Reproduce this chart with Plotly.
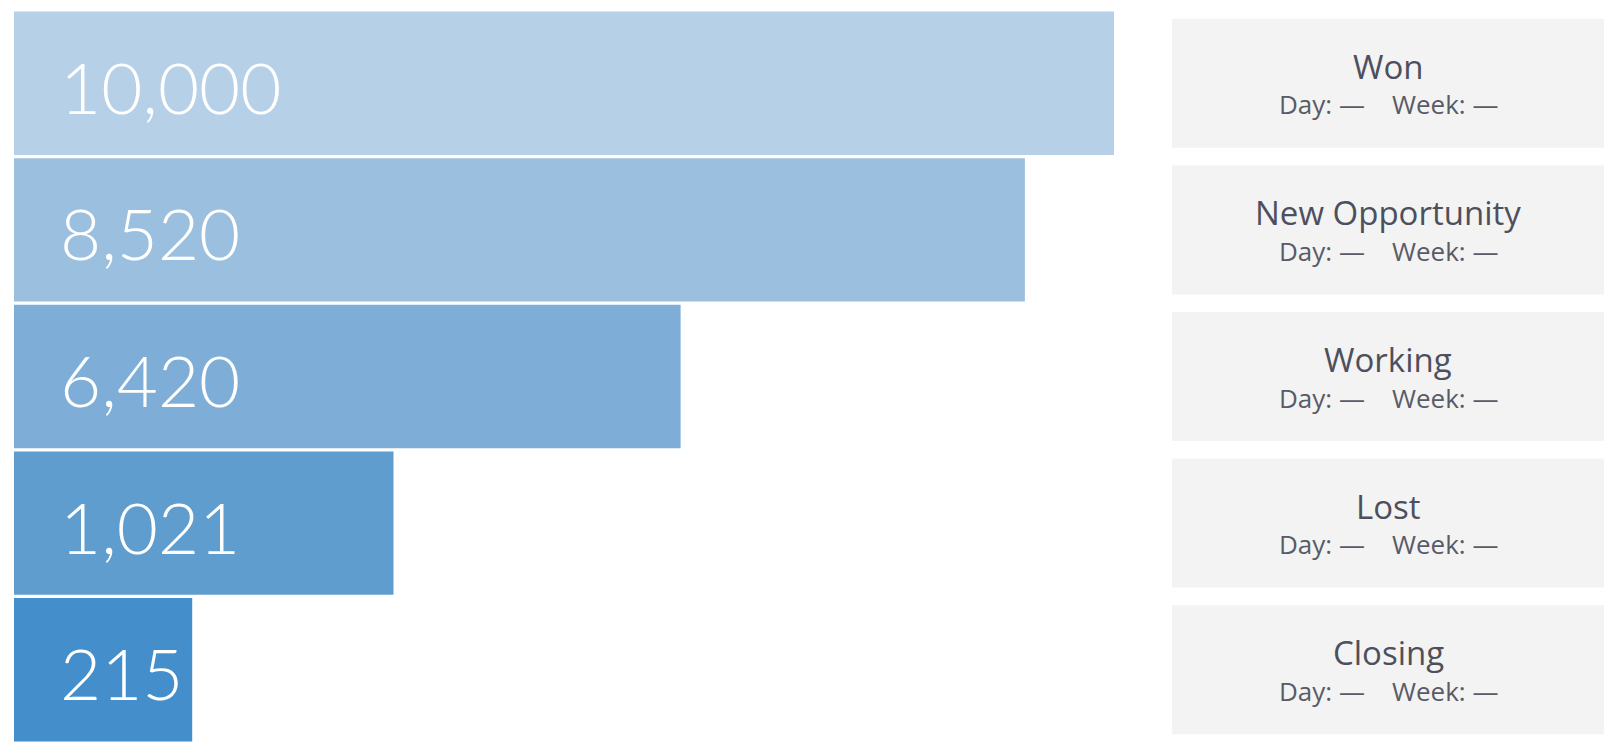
import plotly.graph_objects as go

# funnel stages, top to bottom
stages = ["Won", "New Opportunity", "Working", "Lost", "Closing"]
counts = [10000, 8520, 6420, 1021, 215]
# drawn bar length (percent of the widest bar)
bar_length = [100, 91.9, 60.6, 34.5, 16.2]
bar_colors = ["#b6d0e7", "#9bbfdf", "#7eaed7", "#5f9dcf", "#438ecb"]
day_values = ["—", "—", "—", "—", "—"]
week_values = ["—", "—", "—", "—", "—"]

W, H = 1622, 756
# the page body adds an 8px margin, so the plot area is pulled in by that much
L, T, B = 6, 2, 21
plot_w = W - L

fig = go.Figure()

fig.add_trace(go.Bar(
    x=bar_length, y=stages, orientation="h",
    marker=dict(color=bar_colors, line=dict(width=0)),
    hoverinfo="skip",
))

# big white numbers sitting inside each bar
for stage, c in zip(stages, counts):
    fig.add_annotation(x=0, y=stage, xref="x", yref="y", text=f"{c:,}",
                       showarrow=False, xanchor="left", yanchor="middle",
                       xshift=44, yshift=-3,
                       font=dict(family="Lato", size=71, color="white", weight=300))

# grey info cards on the right
card_x0 = (1164 - L) / plot_w
card_x1 = (1596 - L) / plot_w
card_mid = (card_x0 + card_x1) / 2
for i, stage in enumerate(stages):
    fig.add_shape(type="rect", xref="paper", yref="y",
                  x0=card_x0, x1=card_x1, y0=i - 0.44, y1=i + 0.44,
                  fillcolor="#f3f3f3", line=dict(width=0), layer="below")
    fig.add_annotation(x=card_mid, y=stage, xref="paper", yref="y", text=stage,
                       showarrow=False, xanchor="center", yanchor="middle", yshift=17,
                       font=dict(family="Open Sans", size=33, color="#4d505c"))
    fig.add_annotation(x=card_mid, y=stage, xref="paper", yref="y",
                       text=f"Day: {day_values[i]}&nbsp;&nbsp;&nbsp;&nbsp;Week: {week_values[i]}",
                       showarrow=False, xanchor="center", yanchor="middle", yshift=-21,
                       font=dict(family="Open Sans", size=26, color="#595b66"))

fig.update_layout(
    width=W, height=H,
    margin=dict(l=L, r=0, t=T, b=B),
    paper_bgcolor="white", plot_bgcolor="white",
    bargap=0.022, showlegend=False,
    xaxis=dict(range=[0, plot_w / 1100 * 100], visible=False, fixedrange=True),
    yaxis=dict(categoryorder="array", categoryarray=stages, autorange="reversed",
               visible=False, fixedrange=True),
)

fig.write_html("out.html", config=dict(displayModeBar=False))
